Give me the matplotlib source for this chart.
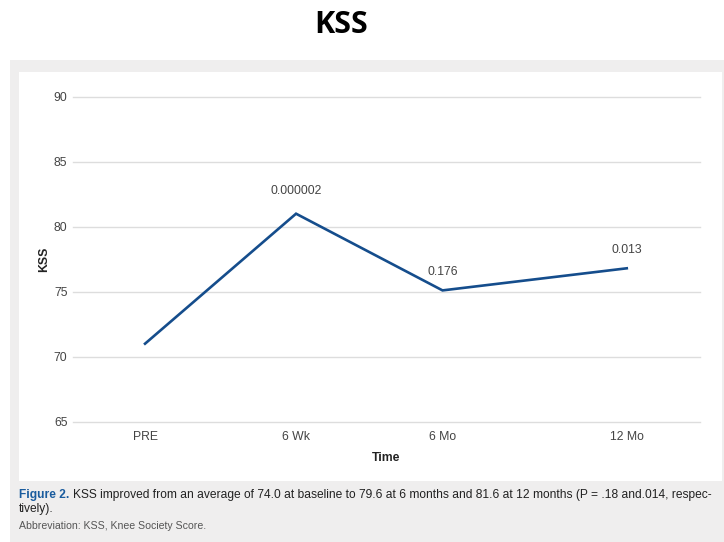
import matplotlib
matplotlib.use("Agg")
import matplotlib.pyplot as plt
from matplotlib.patches import Rectangle

# Data
time_labels = ["PRE", "6 Wk", "6 Mo", "12 Mo"]
kss_values = [71.0, 81.0, 75.1, 76.8]
p_labels = ["", "0.000002", "0.176", "0.013"]
y_ticks = [65, 70, 75, 80, 85, 90]

# layout: category positions along the axis (as in reference spacing)
x_pos = [0, 1, 1.97, 3.19]

plt.rcParams['font.family'] = ['Liberation Sans', 'DejaVu Sans']

fig = plt.figure(figsize=(7.24, 5.42), dpi=100)
W, H = 724, 542

def fx(px):
    return px / W

def fy(py):
    return 1 - py / H

# grey panel and white inner box
fig.patches.append(Rectangle((fx(10), 0), 1 - fx(10), fy(60), transform=fig.transFigure,
                             facecolor="#efeeee", edgecolor="none", zorder=-2))
fig.patches.append(Rectangle((fx(19), fy(481)), fx(722) - fx(19), fy(72) - fy(481),
                             transform=fig.transFigure, facecolor="white", edgecolor="none", zorder=-1))

fig.text(fx(341), fy(25), "KSS", ha="center", va="center", fontsize=22, fontweight="bold",
         family=["Open Sans", "DejaVu Sans"], color="black")

ax = fig.add_axes([fx(73), fy(421.7), fx(700) - fx(73), fy(96.7) - fy(421.7)])
ax.set_zorder(2)
ax.set_facecolor("none")
ax.plot(x_pos, kss_values, color="#154d8c", linewidth=1.9, solid_joinstyle="miter", zorder=3)
for x, y, lab, off in zip(x_pos, kss_values, p_labels, [0, 23, 18, 18]):
    if lab:
        ax.annotate(lab, (x, y), xytext=(0, off * 0.72), textcoords="offset points",
                    ha="center", va="center", fontsize=8.8, color="#444444")

ax.set_ylim(65, 90)
ax.set_xlim(-0.477, 3.675)
ax.set_yticks(y_ticks)
ax.set_xticks(x_pos)
ax.set_xticklabels(time_labels)
ax.grid(axis="y", color="#dddddd", linewidth=1.0, zorder=0)
for gl in ax.get_ygridlines():
    gl.set_clip_on(False)
ax.set_axisbelow(True)
for s in ax.spines.values():
    s.set_visible(False)
ax.tick_params(axis="both", length=0, labelsize=8.8, labelcolor="#444444")
ax.tick_params(axis="y", pad=4)
ax.tick_params(axis="x", pad=7)
ax.set_xlabel("Time", fontsize=8.8, fontweight="bold", labelpad=6, color="#222222")
ax.set_ylabel("KSS", fontsize=8.8, fontweight="bold", labelpad=0, color="#222222")
ax.yaxis.set_label_coords(fx(50 - 73) / (fx(700) - fx(73)), 0.5)

# caption
cap_size = 8.65
fig.text(fx(19), fy(495), "Figure 2.", ha="left", va="center", fontsize=cap_size,
         color="#1a5c9e", fontweight="bold")
fig.text(fx(73), fy(495),
         "KSS improved from an average of 74.0 at baseline to 79.6 at 6 months and 81.6 at 12 months (P = .18 and.014, respec-",
         ha="left", va="center", fontsize=cap_size, color="#222222")
fig.text(fx(19), fy(509), "tively).", ha="left", va="center", fontsize=cap_size, color="#222222")
fig.text(fx(19), fy(526), "Abbreviation: KSS, Knee Society Score.", ha="left", va="center",
         fontsize=7.6, color="#555555")

fig.savefig("out.png", dpi=100)
